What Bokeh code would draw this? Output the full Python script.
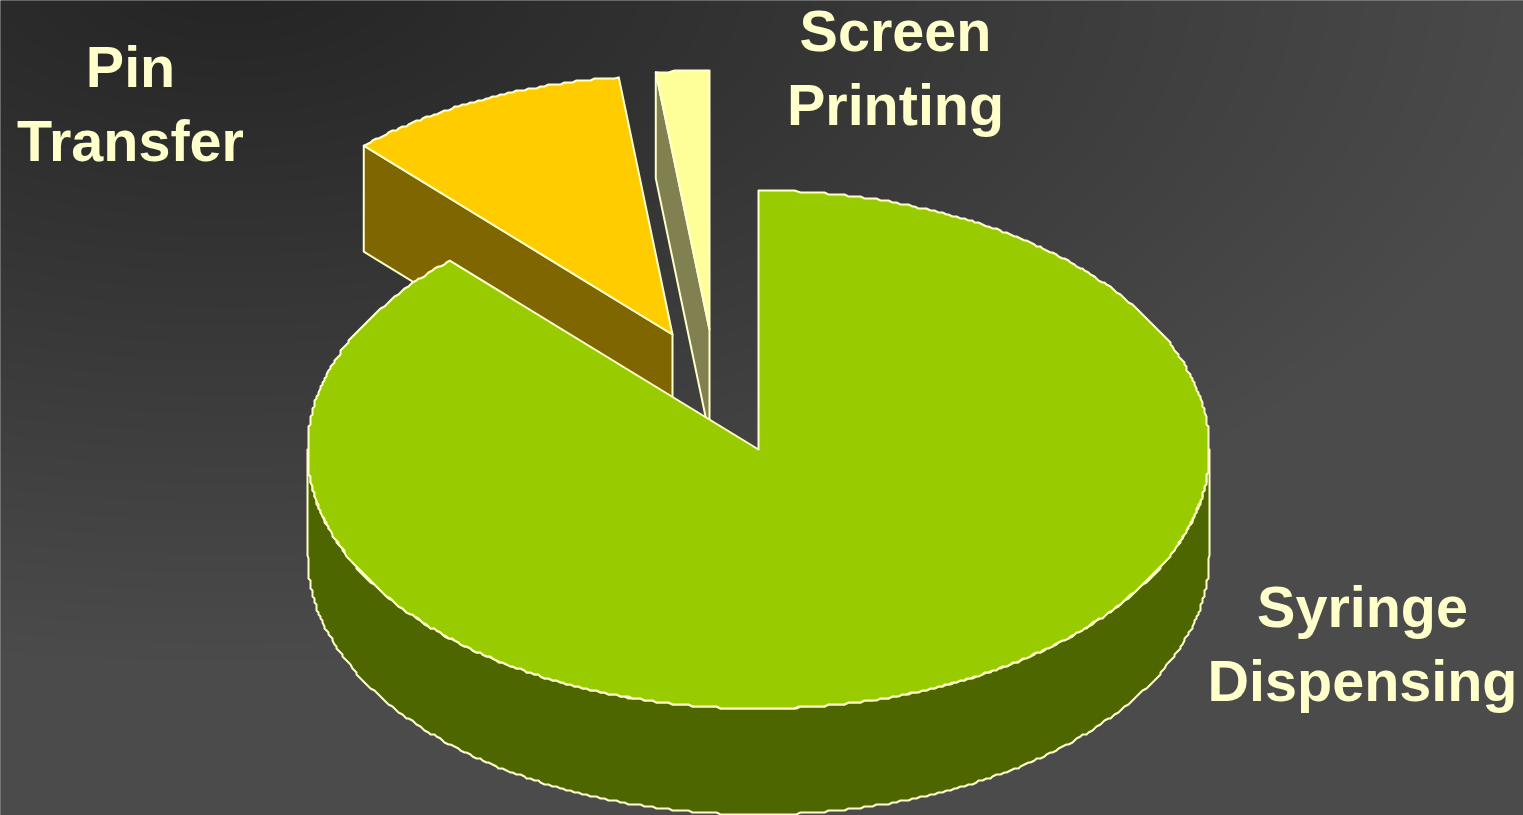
import numpy as np
from bokeh.core.properties import value
from bokeh.embed import file_html
from bokeh.plotting import figure
from bokeh.resources import INLINE

# Share of each dispensing method, clockwise from twelve o'clock
methods = ["Syringe Dispensing", "Pin Transfer", "Screen Printing"]
shares = [88, 10.1, 1.9]
top_colors = ["#99CC00", "#FFCC00", "#FFFF99"]
wall_colors = ["#4D6600", "#806600", "#808050"]
label_lines = [["Syringe", "Dispensing"], ["Pin", "Transfer"], ["Screen", "Printing"]]

W, H = 1523, 815
RX, RY, DEPTH = 451, 259, 106
INK = "#FFFFCC"
centres = [(758, 449), (672, 334), (709, 329)]
label_anchor = [(1362, 628), (130, 88), (895, 52)]
LINE_STEP = 74
BASELINE_SHIFT = 22
GRID = 2.0


def ys(px_y):
    return H - np.asarray(px_y, dtype=float)


def rim(cx, cy, a0, a1):
    """Rim of the tilted disc between two clockwise angles, snapped to a coarse grid."""
    t = np.linspace(a0, a1, max(3, int((a1 - a0) * 110)))
    x = cx + RX * np.sin(t)
    y = cy - RY * np.cos(t)
    x[1:-1] = np.round(x[1:-1] / GRID) * GRID
    y[1:-1] = np.round(y[1:-1] / GRID) * GRID
    return x, y


p = figure(width=W, height=H, x_range=(0, W), y_range=(0, H), output_backend="svg",
           toolbar_location=None, min_border=0, outline_line_color=None,
           background_fill_color="#484848", border_fill_color="#333333")
p.axis.visible = False
p.grid.visible = False

# Backdrop: dark glow spreading from the upper left
gx, gy = np.meshgrid(np.arange(W + 8), np.arange(H + 8))
dist = np.sqrt(((gx - 4 - 230) / 1340.0) ** 2 + ((gy - 4 + 30) / 690.0) ** 2)
level = np.clip(0x24 + (0x4B - 0x24) * np.clip(dist, 0, 1), 0, 255).astype(np.uint32)
rgba = (255 << 24) | (level << 16) | (level << 8) | level
p.image_rgba(image=[rgba[::-1].astype(np.uint32)], x=-4, y=-4, dw=W + 8, dh=H + 8)

# Slice angles from the shares
frac = np.cumsum([0] + shares) / float(sum(shares))
angles = frac * 2 * np.pi


def draw_patch(x, y, fill):
    p.patch(x, ys(y), fill_color=fill, line_color=INK, line_width=2, line_join="round")


# Exploded slices first: only their left radial wall is visible
for i in (1, 2):
    cx, cy = centres[i]
    ex = cx + RX * np.sin(angles[i])
    ey = cy - RY * np.cos(angles[i])
    draw_patch([ex, cx, cx, ex], [ey, cy, cy + DEPTH, ey + DEPTH], wall_colors[i])
    rx, ry = rim(cx, cy, angles[i], angles[i + 1])
    draw_patch(np.r_[cx, rx], np.r_[cy, ry], top_colors[i])

# Main slice: outer wall along the front half of the rim, then its top face
cx, cy = centres[0]
wx, wy = rim(cx, cy, np.pi / 2, 3 * np.pi / 2)
draw_patch(np.r_[wx, wx[::-1]], np.r_[wy + DEPTH, wy[::-1]], wall_colors[0])
rx, ry = rim(cx, cy, angles[0], angles[1])
draw_patch(np.r_[cx, rx], np.r_[cy, ry], top_colors[0])

# Labels, two centred lines each
for lines, (lx, ly) in zip(label_lines, label_anchor):
    for k, line in enumerate(lines):
        p.text([lx], [H - ly - k * LINE_STEP + BASELINE_SHIFT], text=[line], text_color=INK,
               text_font=value("Liberation Sans"), text_font_style="bold",
               text_font_size="57.5px", text_align="center", text_baseline="middle")

open("out.html", "w").write(file_html(p, INLINE))
